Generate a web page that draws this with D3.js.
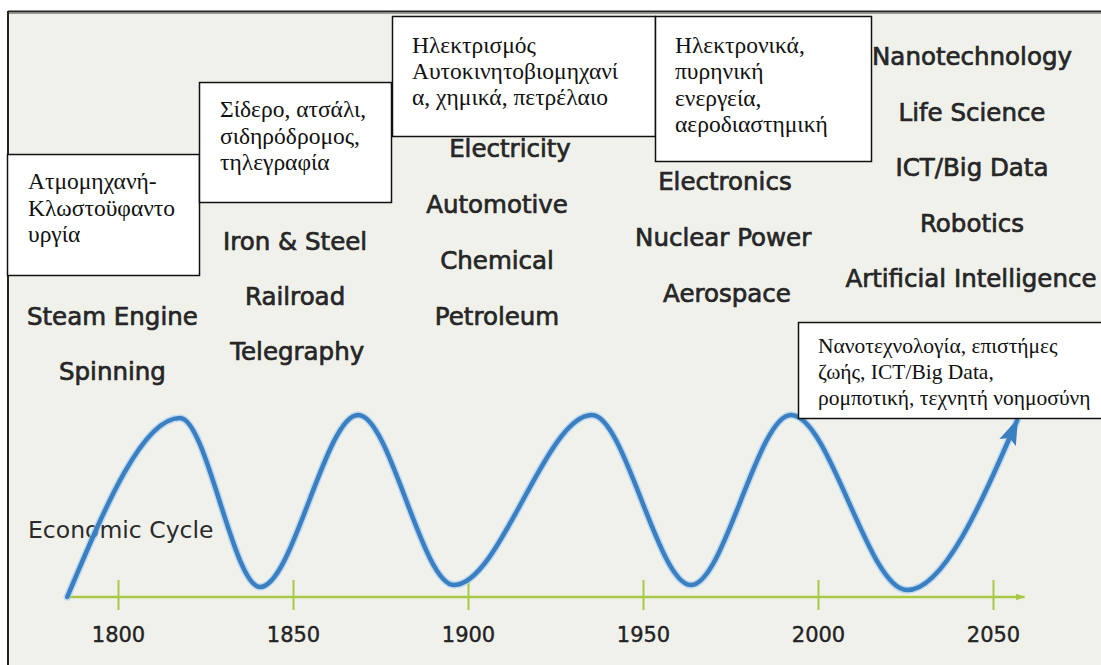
<!DOCTYPE html>
<html>
<head>
<meta charset="utf-8">
<script src="https://cdn.jsdelivr.net/npm/d3@7"></script>
<style>
  html, body { margin: 0; padding: 0; background: #ffffff; }
  svg { display: block; }
</style>
</head>
<body>
<script>
// ---------------- DATA ----------------
const tickYears = [1800, 1850, 1900, 1950, 2000, 2050];
const axisYears = [1785.5, 2059];

// economic cycle (index: 0 = axis level, 100 = typical peak)
const cycleYears  = [1785.5, 1817.7, 1840.6, 1868.6, 1896.0, 1935.4, 1963.7, 1992.3, 2025.4, 2056.9];
const cycleValues = [0,      98.4,   5.5,    100,    6.6,    100,    6.6,    100,    3.8,    97];

// English technology labels per wave [text, year position of centre, row]
const techLabels = [
  ["Steam Engine", 1798.4, 0], ["Spinning", 1798.4, 1],
  ["Iron & Steel", 1850.6, 0], ["Railroad", 1850.6, 1], ["Telegraphy", 1851.2, 2],
  ["Electricity", 1912.0, 0], ["Automotive", 1908.3, 1], ["Chemical", 1908.3, 2], ["Petroleum", 1908.3, 3],
  ["Electronics", 1973.4, 0], ["Nuclear Power", 1972.9, 1], ["Aerospace", 1974.0, 2],
  ["Nanotechnology", 2044.0, 0], ["Life Science", 2044.0, 1], ["ICT/Big Data", 2044.0, 2],
  ["Robotics", 2044.0, 3], ["Artificial Intelligence", 2043.7, 4]
];

// Greek annotation boxes (text lines)
const greekBoxes = [
  ["Ατμομηχανή-", "Κλωστοϋφαντο", "υργία"],
  ["Σίδερο, ατσάλι,", "σιδηρόδρομος,", "τηλεγραφία"],
  ["Ηλεκτρισμός", "Αυτοκινητοβιομηχανί", "α, χημικά, πετρέλαιο"],
  ["Ηλεκτρονικά,", "πυρηνική", "ενεργεία,", "αεροδιαστημική"],
  ["Νανοτεχνολογία, επιστήμες", "ζωής, ICT/Big Data,", "ρομποτική, τεχνητή νοημοσύνη"]
];
const cycleLabel = "Economic Cycle";

// ---------------- LAYOUT ----------------
const W = 1101, H = 665;
const axisY = 597;

// baseline of first row per wave, and row spacing
const waveRowStart = [325, 250, 157, 190, 65];
const waveRowGap = [55, 55, 56, 56, 55.5];
const waveIndex = {"Steam Engine":0,"Spinning":0,"Iron & Steel":1,"Railroad":1,"Telegraphy":1,
  "Electricity":2,"Automotive":2,"Chemical":2,"Petroleum":2,"Electronics":3,"Nuclear Power":3,"Aerospace":3,
  "Nanotechnology":4,"Life Science":4,"ICT/Big Data":4,"Robotics":4,"Artificial Intelligence":4};

const boxGeom = [
  {x: 7,   y: 154, w: 192, h: 121, tx: 28,  ty: 189, lh: 26.5, fs: 23.5},
  {x: 199, y: 82,  w: 192, h: 120, tx: 220, ty: 117, lh: 26.5, fs: 23.5},
  {x: 392, y: 16,  w: 263, h: 120, tx: 412, ty: 53,  lh: 26,   fs: 23.5},
  {x: 655, y: 16,  w: 216, h: 145, tx: 675, ty: 53,  lh: 26.3, fs: 23.5},
  {x: 798, y: 322, w: 320, h: 96,  tx: 818, ty: 353, lh: 26,   fs: 21.5}
];

const svg = d3.select("body").append("svg")
  .attr("width", W).attr("height", H);

const defs = svg.append("defs");
defs.append("marker")
  .attr("id", "blueArrow")
  .attr("markerUnits", "userSpaceOnUse")
  .attr("viewBox", "0 -10 28 20")
  .attr("refX", 24).attr("refY", 0)
  .attr("markerWidth", 28).attr("markerHeight", 20)
  .attr("orient", "auto")
  .append("path")
  .attr("d", "M0,-9 L26,0 L0,9 L5,0 Z")
  .attr("fill", "#3a7fc2");

defs.append("marker")
  .attr("id", "greenArrow")
  .attr("markerUnits", "userSpaceOnUse")
  .attr("viewBox", "0 -5 10 10")
  .attr("refX", 9).attr("refY", 0)
  .attr("markerWidth", 10).attr("markerHeight", 10)
  .attr("orient", "auto")
  .append("path")
  .attr("d", "M0,-3.5 L10,0 L0,3.5 Z")
  .attr("fill", "#a9c844");

// background panel + frame
svg.append("rect").attr("x", 8).attr("y", 11).attr("width", W).attr("height", H)
  .attr("fill", "#f1f1ec");
svg.append("line").attr("x1", 8).attr("x2", W).attr("y1", 11.5).attr("y2", 11.5)
  .attr("stroke", "#222").attr("stroke-width", 2);
svg.append("line").attr("x1", 8).attr("x2", W).attr("y1", 13.5).attr("y2", 13.5)
  .attr("stroke", "#999").attr("stroke-width", 1);
svg.append("line").attr("x1", 8).attr("x2", 8).attr("y1", 11).attr("y2", H)
  .attr("stroke", "#222").attr("stroke-width", 2);

// scales
const x = d3.scaleLinear().domain([1800, 2050]).range([118, 993]);
const y = d3.scaleLinear().domain([0, 100]).range([axisY, 415]);

// axis
const axisG = svg.append("g").attr("transform", `translate(0,${axisY})`)
  .call(d3.axisBottom(x).tickValues(tickYears).tickFormat(d3.format("d")).tickSizeOuter(0));
axisG.select(".domain").remove();
axisG.selectAll(".tick line")
  .attr("y1", -17).attr("y2", 13)
  .attr("stroke", "#a9c844").attr("stroke-width", 2);
axisG.selectAll(".tick text")
  .attr("y", 45).attr("dy", 0)
  .attr("font-family", "DejaVu Sans")
  .attr("font-size", 21)
  .attr("fill", "#232323")
  .attr("stroke", "#232323").attr("stroke-width", 0.4);

svg.insert("line", "g")
  .attr("x1", x(axisYears[0])).attr("x2", x(axisYears[1]))
  .attr("y1", axisY).attr("y2", axisY)
  .attr("stroke", "#a9c844").attr("stroke-width", 2.5)
  .attr("marker-end", "url(#greenArrow)");

// cycle label
svg.append("text")
  .attr("x", 28).attr("y", 538)
  .attr("font-family", "DejaVu Sans").attr("font-size", 23.5)
  .attr("fill", "#2a2a2a")
  .text(cycleLabel);

// curve
const pts = cycleYears.map((yr, i) => [x(yr), y(cycleValues[i])]);
const lineGen = d3.line().curve(d3.curveMonotoneX);
svg.append("path").attr("d", lineGen(pts))
  .attr("fill", "none").attr("stroke", "#9fcaf0").attr("stroke-width", 7.5)
  .attr("stroke-opacity", 0.6).attr("stroke-linecap", "round");
svg.append("path").attr("d", lineGen(pts))
  .attr("fill", "none").attr("stroke", "#3a7fc2").attr("stroke-width", 4.5)
  .attr("stroke-linecap", "round")
  .attr("marker-end", "url(#blueArrow)");

// technology labels
svg.append("g").selectAll("text").data(techLabels).join("text")
  .attr("x", d => x(d[1]))
  .attr("y", d => { const w = waveIndex[d[0]]; return waveRowStart[w] + d[2] * waveRowGap[w]; })
  .attr("text-anchor", "middle")
  .attr("font-family", "DejaVu Sans").attr("font-size", 24.5)
  .attr("fill", "#262626")
  .attr("stroke", "#262626").attr("stroke-width", 0.7)
  .text(d => d[0]);

// greek boxes
const bg = svg.append("g").selectAll("g").data(greekBoxes).join("g");
bg.append("rect")
  .attr("x", (d, i) => boxGeom[i].x + 0.5).attr("y", (d, i) => boxGeom[i].y + 0.5)
  .attr("width", (d, i) => boxGeom[i].w).attr("height", (d, i) => boxGeom[i].h)
  .attr("fill", "#ffffff").attr("stroke", "#111").attr("stroke-width", 1.5);
bg.each(function(lines, i) {
  const g = boxGeom[i];
  d3.select(this).selectAll("text").data(lines).join("text")
    .attr("x", g.tx)
    .attr("y", (t, j) => g.ty + j * g.lh)
    .attr("font-family", "Liberation Serif").attr("font-size", g.fs)
    .attr("fill", "#111")
    .text(t => t);
});
</script>
</body>
</html>
